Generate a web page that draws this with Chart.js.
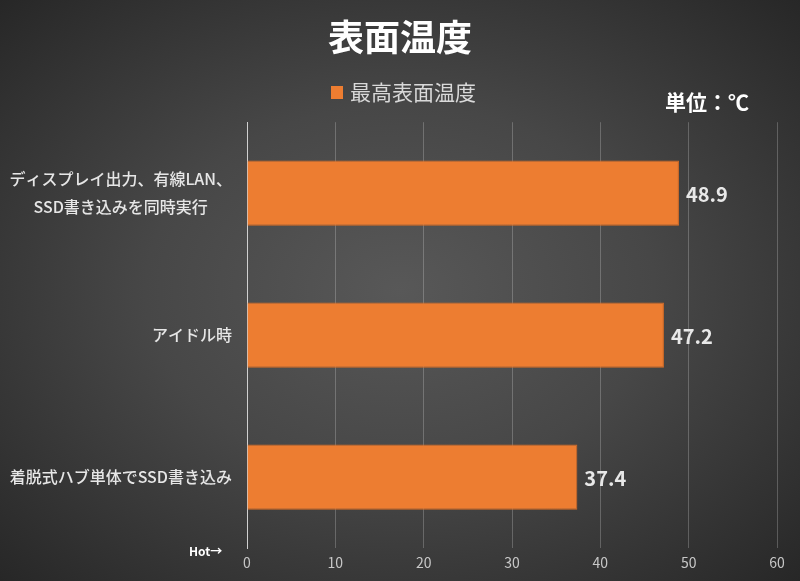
<!DOCTYPE html>
<html lang="ja">
  <head>
    <meta charset="UTF-8" />
    <title>表面温度</title>
    <script src="https://cdn.jsdelivr.net/npm/chart.js"></script>
    <style>
      html, body {
        margin: 0;
        padding: 0;
      }
      body {
        width: 800px;
        height: 581px;
        background: radial-gradient(ellipse at 50% 50%, #585858 0%, #474747 45%, #272727 100%);
        overflow: hidden;
      }
      #wrap {
        position: relative;
        width: 800px;
        height: 581px;
      }
    </style>
  </head>
  <body>
    <div id="wrap">
      <canvas id="myChart" width="800" height="581"></canvas>
    </div>
    <script>
      const categories = [
        ["ディスプレイ出力、有線LAN、", "SSD書き込みを同時実行"],
        ["アイドル時"],
        ["着脱式ハブ単体でSSD書き込み"],
      ];
      const maxTemps = [48.9, 47.2, 37.4];
      const seriesName = "最高表面温度";
      const xTicks = [0, 10, 20, 30, 40, 50, 60];

      const FONT = "'Noto Sans CJK JP', 'Noto Sans', sans-serif";
      const BAR_COLOR = "#ED7D31";

      // 凡例・ラベル・単位などの描画
      const extras = {
        id: "extras",
        afterDraw(chart) {
          const ctx = chart.ctx;
          const y = chart.scales.y;
          const meta = chart.getDatasetMeta(0);
          ctx.save();

          // 凡例
          ctx.fillStyle = BAR_COLOR;
          ctx.fillRect(331, 86, 12, 13);
          ctx.font = "21px " + FONT;
          ctx.fillStyle = "#d9d9d9";
          ctx.textAlign = "left";
          ctx.textBaseline = "middle";
          ctx.fillText(seriesName, 350, 92);

          // カテゴリラベル（複数行は中央揃え）
          ctx.font = "500 16px " + FONT;
          ctx.fillStyle = "#e6e6e6";
          categories.forEach((lines, i) => {
            const cy = y.getPixelForTick(i);
            const widths = lines.map((l) => ctx.measureText(l).width);
            const maxW = Math.max(...widths);
            const center = 232 - maxW / 2;
            const lh = 28;
            lines.forEach((l, j) => {
              ctx.textAlign = "center";
              ctx.fillText(l, center, cy + (j - (lines.length - 1) / 2) * lh);
            });
          });

          // データラベル
          ctx.font = "bold 20px " + FONT;
          ctx.fillStyle = "#e8e8e8";
          ctx.textAlign = "left";
          meta.data.forEach((bar, i) => {
            ctx.fillText(maxTemps[i].toFixed(1), bar.x + 7, bar.y + 1);
          });

          // 単位
          ctx.font = "bold 21px " + FONT;
          ctx.fillStyle = "#ffffff";
          ctx.fillText("単位：℃", 665, 102);

          // Hot→
          ctx.font = "bold 12px " + FONT;
          ctx.fillText("Hot→", 189, 551);

          ctx.restore();
        },
      };

      new Chart(document.getElementById("myChart"), {
        type: "bar",
        data: {
          labels: categories,
          datasets: [
            {
              label: seriesName,
              data: maxTemps,
              backgroundColor: BAR_COLOR,
              borderColor: "#d86c25",
              borderWidth: 1,
              barPercentage: 0.46,
              categoryPercentage: 1,
            },
          ],
        },
        options: {
          indexAxis: "y",
          responsive: false,
          animation: false,
          layout: {
            padding: { left: 23, right: 23, top: 0, bottom: 4 },
          },
          plugins: {
            title: {
              display: true,
              text: "表面温度",
              color: "#ffffff",
              font: { family: FONT, size: 36, weight: "bold" },
              padding: { top: 16, bottom: 63 },
            },
            legend: { display: false },
            tooltip: { enabled: false },
          },
          scales: {
            x: {
              min: 0,
              max: 60,
              afterBuildTicks: (s) => {
                s.ticks = xTicks.map((v) => ({ value: v }));
              },
              grid: {
                color: "rgba(255,255,255,0.22)",
                lineWidth: 1,
                drawTicks: false,
              },
              border: { display: false },
              ticks: {
                color: "#c8c8c8",
                font: { family: FONT, size: 14 },
                padding: 6,
              },
            },
            y: {
              afterFit: (s) => {
                s.width = 224;
              },
              grid: { display: false },
              border: { display: true, color: "#d0d0d0", width: 1 },
              ticks: { display: false },
            },
          },
        },
        plugins: [extras],
      });
    </script>
  </body>
</html>
